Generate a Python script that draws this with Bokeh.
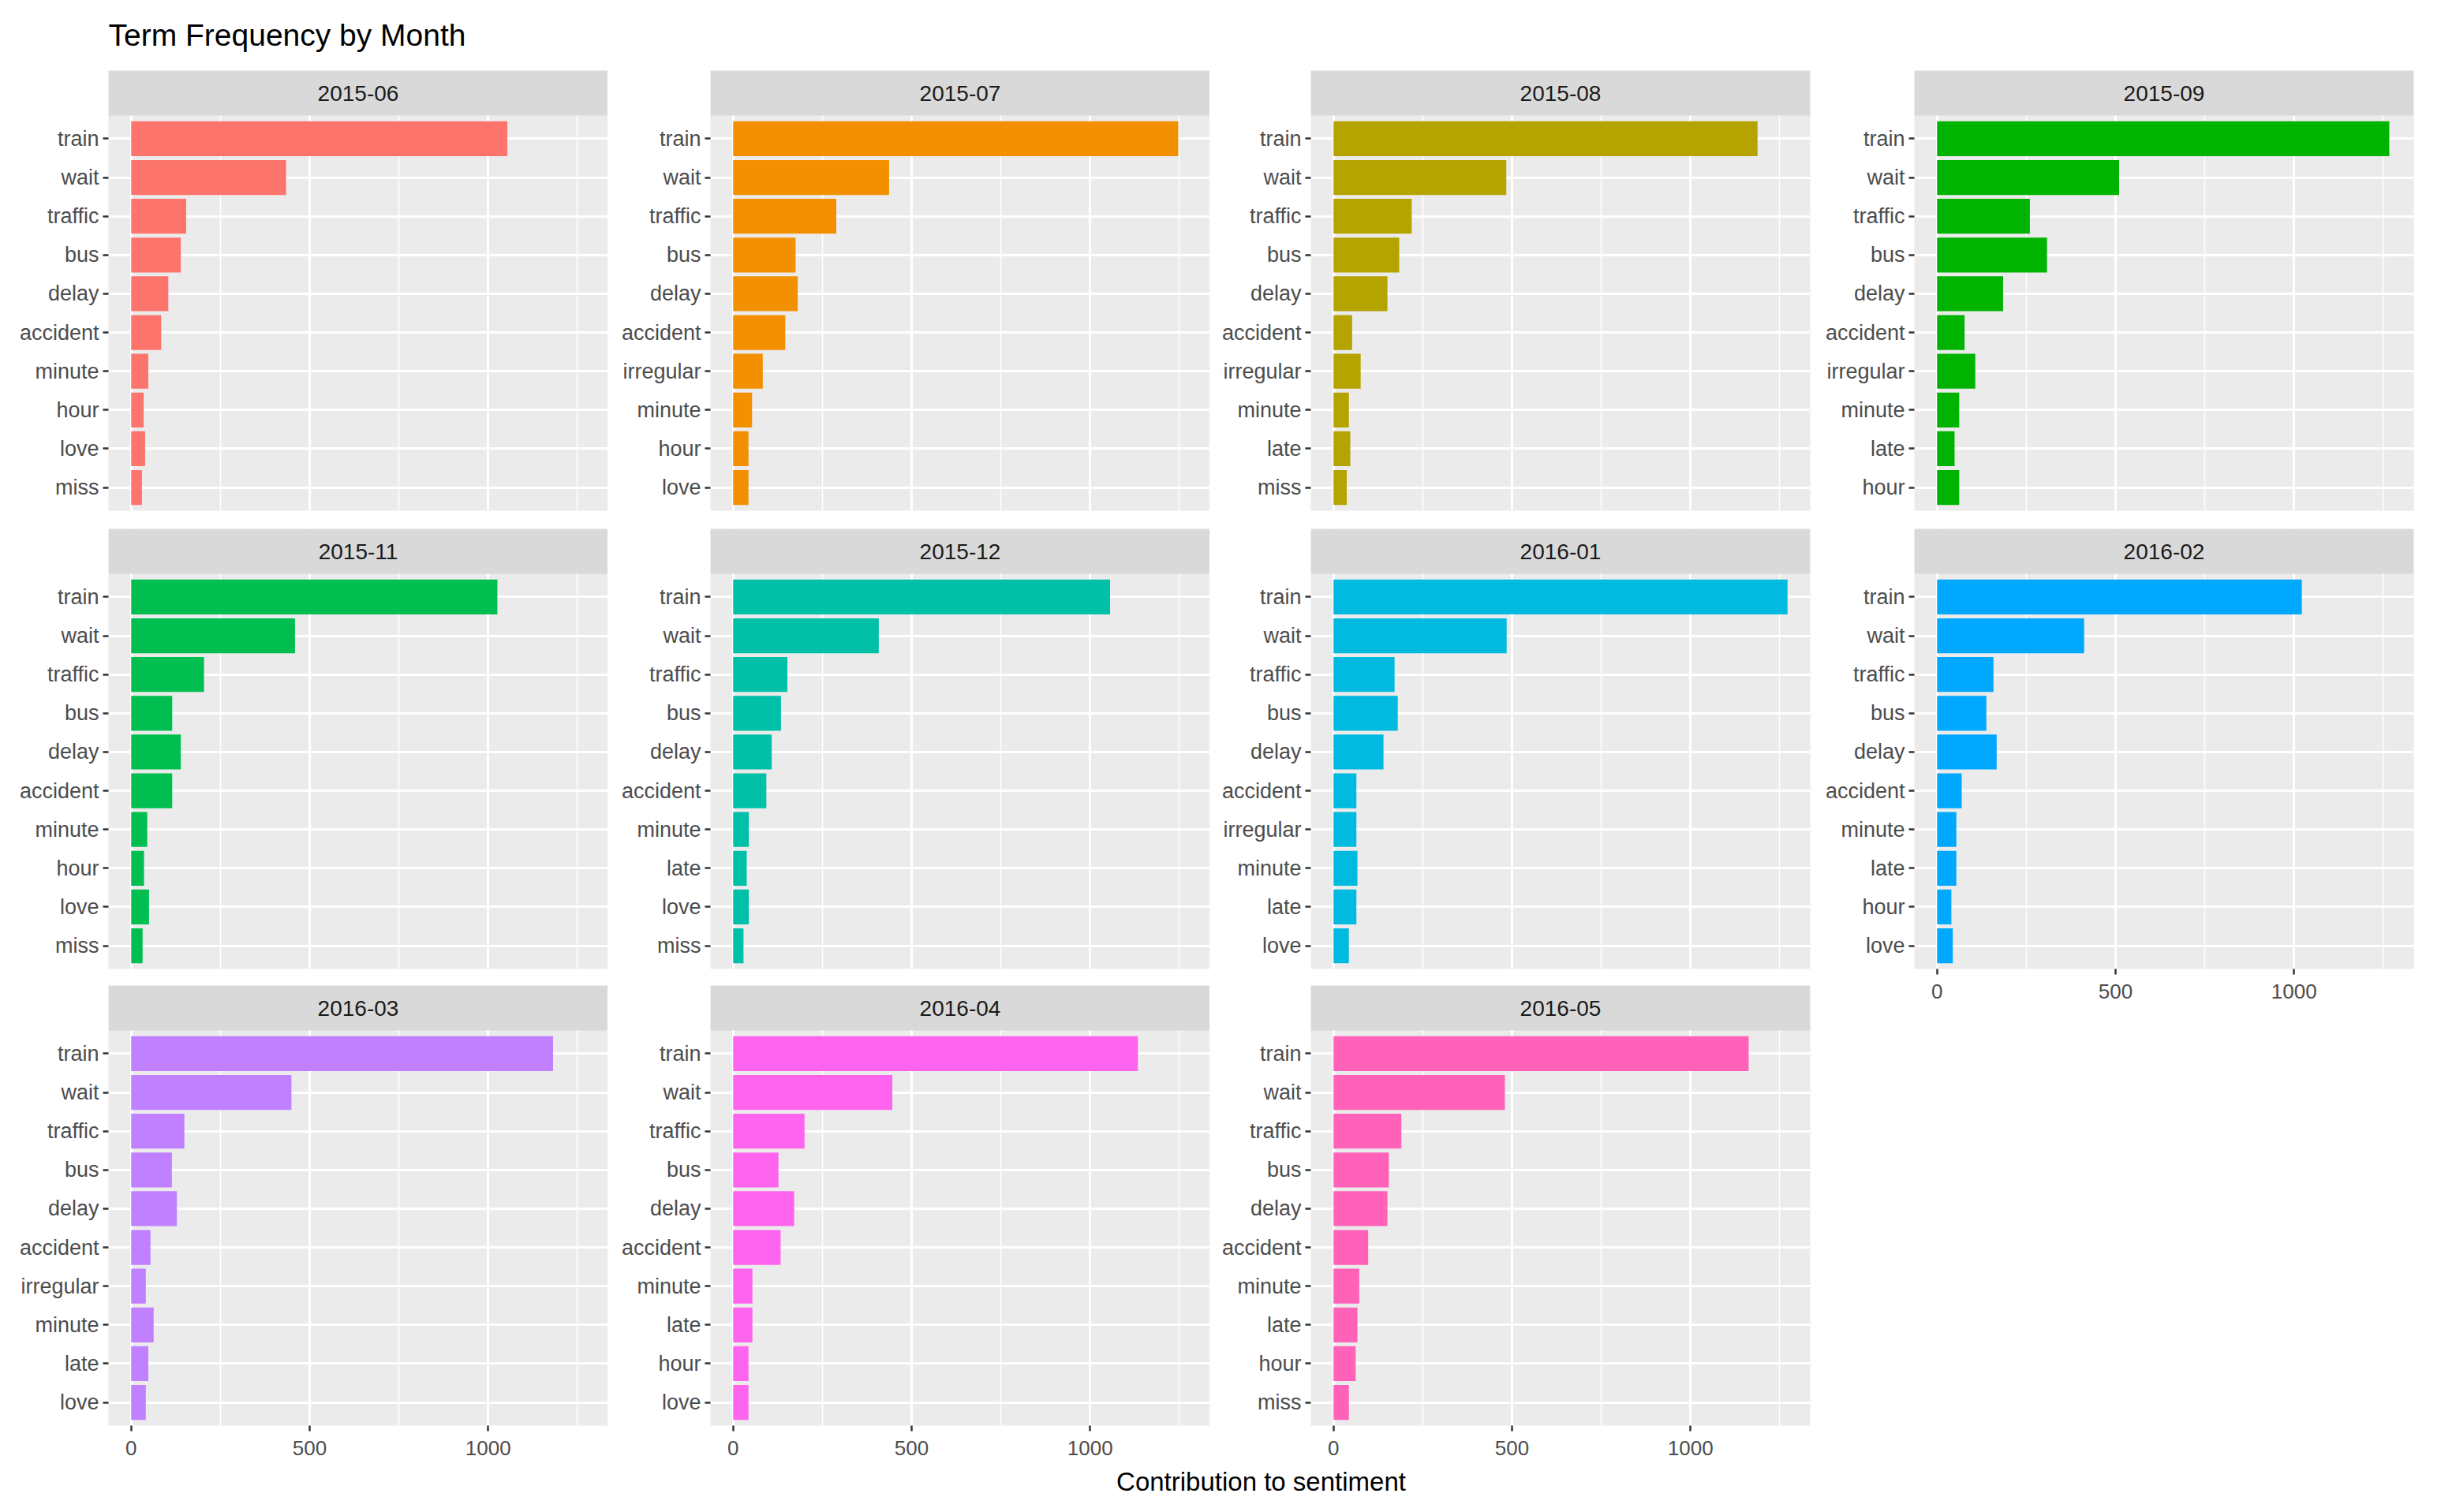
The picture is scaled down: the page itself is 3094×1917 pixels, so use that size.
from bokeh.plotting import figure
from bokeh.layouts import row, column
from bokeh.models import Range1d, FixedTicker
from bokeh.core.properties import value
from bokeh.embed import file_html
from bokeh.resources import INLINE

# ---------------- data ----------------
months = ["2015-06", "2015-07", "2015-08", "2015-09", "2015-11", "2015-12",
          "2016-01", "2016-02", "2016-03", "2016-04", "2016-05"]

terms_2015_06 = ["train", "wait", "traffic", "bus", "delay", "accident", "minute", "hour", "love", "miss"]
counts_2015_06 = [1054, 434, 154, 139, 104, 84, 48, 35, 39, 30]

terms_2015_07 = ["train", "wait", "traffic", "bus", "delay", "accident", "irregular", "minute", "hour", "love"]
counts_2015_07 = [1247, 437, 289, 175, 181, 146, 83, 53, 43, 43]

terms_2015_08 = ["train", "wait", "traffic", "bus", "delay", "accident", "irregular", "minute", "late", "miss"]
counts_2015_08 = [1188, 484, 219, 184, 151, 52, 76, 43, 47, 37]

terms_2015_09 = ["train", "wait", "traffic", "bus", "delay", "accident", "irregular", "minute", "late", "hour"]
counts_2015_09 = [1267, 510, 260, 308, 185, 77, 107, 62, 49, 62]

terms_2015_11 = ["train", "wait", "traffic", "bus", "delay", "accident", "minute", "hour", "love", "miss"]
counts_2015_11 = [1026, 459, 204, 115, 139, 115, 45, 36, 50, 32]

terms_2015_12 = ["train", "wait", "traffic", "bus", "delay", "accident", "minute", "late", "love", "miss"]
counts_2015_12 = [1056, 408, 152, 134, 108, 93, 44, 38, 44, 29]

terms_2016_01 = ["train", "wait", "traffic", "bus", "delay", "accident", "irregular", "minute", "late", "love"]
counts_2016_01 = [1272, 485, 171, 180, 140, 64, 64, 67, 64, 43]

terms_2016_02 = ["train", "wait", "traffic", "bus", "delay", "accident", "minute", "late", "hour", "love"]
counts_2016_02 = [1022, 412, 158, 138, 167, 69, 54, 54, 40, 44]

terms_2016_03 = ["train", "wait", "traffic", "bus", "delay", "accident", "irregular", "minute", "late", "love"]
counts_2016_03 = [1182, 449, 149, 114, 128, 54, 41, 63, 48, 41]

terms_2016_04 = ["train", "wait", "traffic", "bus", "delay", "accident", "minute", "late", "hour", "love"]
counts_2016_04 = [1134, 446, 200, 127, 171, 133, 54, 54, 43, 43]

terms_2016_05 = ["train", "wait", "traffic", "bus", "delay", "accident", "minute", "late", "hour", "miss"]
counts_2016_05 = [1163, 480, 190, 155, 151, 97, 72, 67, 62, 43]

colors = ["#FC746B", "#F39000", "#B5A300", "#00B300", "#00BF50", "#00C1A8",
          "#00BADF", "#00A9FF", "#C080FF", "#FF64EE", "#FF62B8"]

x_ticks = [0, 500, 1000]
x_minor = [250, 750, 1250]

title_text = "Term Frequency by Month"
x_title = "Contribution to sentiment"

panels = [
    (terms_2015_06, counts_2015_06), (terms_2015_07, counts_2015_07),
    (terms_2015_08, counts_2015_08), (terms_2015_09, counts_2015_09),
    (terms_2015_11, counts_2015_11), (terms_2015_12, counts_2015_12),
    (terms_2016_01, counts_2016_01), (terms_2016_02, counts_2016_02),
    (terms_2016_03, counts_2016_03), (terms_2016_04, counts_2016_04),
    (terms_2016_05, counts_2016_05),
]

# ---------------- style ----------------
FONT = "Liberation Sans"
NCOL = 4
FRAME_W = 633
PANEL_H = 501
STRIP_H = 57
FRAME_H = PANEL_H + STRIP_H
N_TERMS = 10
Y_LO, Y_HI = 0.4, N_TERMS + 0.6
STRIP_UNITS = STRIP_H / PANEL_H * (Y_HI - Y_LO)
TITLE_H = 72

# per-column borders (left, right)
COL_BORDERS = [(137, 0), (130, 0), (128, 4), (128, 4)]

xmax = max(max(c) for _, c in panels)
XLO, XHI = -0.05 * xmax, 1.05 * xmax

n = len(months)


def has_x_axis(i):
    return i + NCOL >= n


def make_panel(i):
    month = months[i]
    terms, counts = panels[i]
    r, c = divmod(i, NCOL)
    show_x = has_x_axis(i)
    left, right = COL_BORDERS[c]
    if r == 0:
        top = 89 - TITLE_H
    elif r == 1:
        top = 13
    else:
        top = 12
    if show_x:
        bottom = 50
    else:
        bottom = 10 if r == 0 else 9
    p = figure(width=left + FRAME_W + right, height=top + FRAME_H + bottom,
               x_range=Range1d(XLO, XHI),
               y_range=Range1d(Y_LO, Y_HI + STRIP_UNITS),
               output_backend="svg", toolbar_location=None,
               min_border_left=left, min_border_right=right,
               min_border_top=top, min_border_bottom=bottom,
               background_fill_color="#EBEBEB", border_fill_color="white",
               outline_line_color=None)

    ypos = list(range(len(terms), 0, -1))

    # grids
    p.xgrid.ticker = FixedTicker(ticks=x_ticks, minor_ticks=x_minor)
    p.xgrid.grid_line_color = "white"
    p.xgrid.grid_line_width = 3
    p.xgrid.minor_grid_line_color = "white"
    p.xgrid.minor_grid_line_width = 1.5
    p.ygrid.ticker = FixedTicker(ticks=ypos, minor_ticks=[])
    p.ygrid.grid_line_color = "white"
    p.ygrid.grid_line_width = 3

    # bars
    p.hbar(y=ypos, left=0, right=counts, height=0.9,
           fill_color=colors[i], line_color=None)

    # strip
    p.quad(left=[XLO], right=[XHI], bottom=[Y_HI], top=[Y_HI + STRIP_UNITS],
           fill_color="#D9D9D9", line_color=None)
    p.text(x=[(XLO + XHI) / 2], y=[Y_HI + STRIP_UNITS / 2], text=[month],
           text_font=value(FONT), text_font_size="28px", text_color="#1A1A1A",
           text_align="center", text_baseline="middle")

    # y axis
    p.yaxis.ticker = FixedTicker(ticks=ypos, minor_ticks=[])
    p.yaxis.major_label_overrides = {y: t for y, t in zip(ypos, terms)}
    p.yaxis.axis_line_color = None
    p.yaxis.major_tick_line_color = "#333333"
    p.yaxis.major_tick_line_width = 2.5
    p.yaxis.major_tick_out = 7
    p.yaxis.major_tick_in = 0
    p.yaxis.minor_tick_line_color = None
    p.yaxis.major_label_text_font = FONT
    p.yaxis.major_label_text_font_size = "27px"
    p.yaxis.major_label_text_color = "#4D4D4D"
    p.yaxis.major_label_standoff = 5

    # x axis
    if show_x:
        p.xaxis.ticker = FixedTicker(ticks=x_ticks, minor_ticks=[])
        p.xaxis.axis_line_color = None
        p.xaxis.major_tick_line_color = "#333333"
        p.xaxis.major_tick_line_width = 2.5
        p.xaxis.major_tick_out = 7
        p.xaxis.major_tick_in = 0
        p.xaxis.minor_tick_line_color = None
        p.xaxis.major_label_text_font = FONT
        p.xaxis.major_label_text_font_size = "26px"
        p.xaxis.major_label_text_color = "#4D4D4D"
        p.xaxis.major_label_standoff = 12
    else:
        p.xaxis.visible = False
    return p


def text_strip(height, label, size, align, x, y):
    f = figure(width=total_w, height=height, x_range=Range1d(0, 1), y_range=Range1d(0, 1),
               output_backend="svg", toolbar_location=None,
               x_axis_location=None, y_axis_location=None,
               min_border_left=COL_BORDERS[0][0], min_border_right=COL_BORDERS[-1][1],
               min_border_top=0, min_border_bottom=0,
               background_fill_color="white", border_fill_color="white",
               outline_line_color=None)
    f.grid.visible = False
    f.text(x=[x], y=[y], text=[label], text_font=value(FONT),
           text_font_size=size, text_color="#000000",
           text_align=align, text_baseline="middle")
    return f


figs = [make_panel(i) for i in range(n)]
cols = []
for c in range(NCOL):
    members = [figs[i] for i in range(c, n, NCOL)]
    cols.append(column(*members, spacing=0))
grid = row(*cols, spacing=0)

total_w = sum(f.width for f in figs[:NCOL])
title_fig = text_strip(TITLE_H, title_text, "39px", "left", 0.0, 0.39)
bottom_fig = text_strip(42, x_title, "33px", "center", 0.5, 0.5)

layout = column(title_fig, grid, bottom_fig, spacing=0)

open("out.html", "w").write(file_html(layout, INLINE))
